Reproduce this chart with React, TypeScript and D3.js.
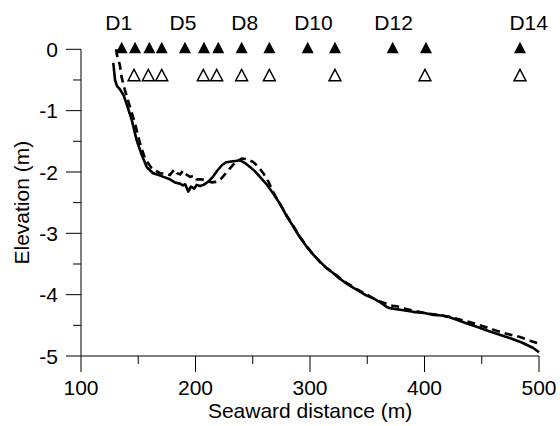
import React from "react";
import * as d3 from "d3";

const solidX = [128.2,129.7,131.5,133.5,137,140,144.3,148.6,153,157.4,163,168,172,177.7,182,186.5,189,191,193.7,196,199,201,204,207,211,215.5,219,223,227,231,235,239,243,247.6,252,256.3,262,267.9,273.8,279.6,285.4,291,297.1,303,308.7,314,320.4,326,332.1,338,343.7,349,355.3,361,367,370,380,390,400,408,415,422,430,437,445,454,465,475,485,495,500];
const solidY = [-0.22,-0.5,-0.6,-0.64,-0.74,-0.9,-1.15,-1.48,-1.72,-1.92,-2.02,-2.05,-2.08,-2.12,-2.17,-2.19,-2.22,-2.2,-2.32,-2.24,-2.27,-2.21,-2.23,-2.21,-2.16,-2.07,-1.98,-1.89,-1.84,-1.83,-1.82,-1.81,-1.85,-1.92,-1.99,-2.08,-2.2,-2.35,-2.52,-2.72,-2.89,-3.06,-3.22,-3.35,-3.46,-3.56,-3.65,-3.74,-3.82,-3.89,-3.95,-4.01,-4.06,-4.12,-4.2,-4.22,-4.25,-4.28,-4.3,-4.33,-4.34,-4.37,-4.42,-4.47,-4.52,-4.58,-4.65,-4.71,-4.78,-4.87,-4.94];

const dashX = [130.6,131.5,134,135.4,138.3,142.8,147.2,151.5,155.9,161.7,169,174,177.7,180,182.1,184,186.5,189,191,195.2,199,201,205,210,214,218.5,222.9,227,230.1,235,240.3,245,250.5,255,259.2,264,267.9,273.8,279.6,285.4,291,297.1,303,308.7,314,320.4,326,332.1,338,343.7,349,355.3,361,367,372,376,385,393,400,408,415,422,430,440,448.5,460,470,483.4,492,500];
const dashY = [0,-0.1,-0.26,-0.45,-0.66,-0.94,-1.21,-1.53,-1.78,-1.94,-2.02,-2.03,-2.05,-1.99,-1.96,-2.02,-2.04,-1.98,-2.03,-2.08,-2.06,-2.12,-2.12,-2.14,-2.17,-2.16,-2.1,-2.01,-1.94,-1.84,-1.78,-1.79,-1.84,-1.92,-2.02,-2.17,-2.33,-2.52,-2.71,-2.88,-3.05,-3.21,-3.35,-3.47,-3.56,-3.64,-3.73,-3.81,-3.88,-3.94,-3.99,-4.06,-4.11,-4.15,-4.18,-4.19,-4.24,-4.27,-4.3,-4.32,-4.34,-4.36,-4.4,-4.45,-4.5,-4.57,-4.63,-4.69,-4.75,-4.8];

const filledX = [135.5,147.2,159.7,170.5,190.8,207.4,219.9,240.3,264.5,298,321.8,372.2,401.3,483.4];
const filledLevel = 0.03;
const openX = [146.3,158.8,170.5,206.8,218.5,240.3,264.5,321.8,400.4,483.4];
const openLevel = -0.42;
const labelNames = ["D1","D5","D8","D10","D12","D14"];
const labelX = [133,189,243,303,373,491];
const labelLevel = 0.31;

const xMajor = [100,200,300,400,500];
const xMinor = [150,250,350,450];
const yMajor = [0,-1,-2,-3,-4,-5];
const yMinor = [-0.5,-1.5,-2.5,-3.5,-4.5];

const W = 560, H = 426;
const FONT = "'Liberation Sans', Arial, sans-serif";
const FS = 21;

export default function App() {
  const x = d3.scaleLinear().domain([100, 500]).range([81, 539]);
  const y = d3.scaleLinear().domain([-5, 0]).range([356, 49.3]);
  const line = d3.line<[number, number]>().x(d => x(d[0])).y(d => y(d[1])).curve(d3.curveLinear);
  const solid = solidX.map((v, i) => [v, solidY[i]] as [number, number]);
  const dashed = dashX.map((v, i) => [v, dashY[i]] as [number, number]);
  const tw = 12, th = 11.5;
  const tri = `M0,${-th / 2}L${tw / 2},${th / 2}L${-tw / 2},${th / 2}Z`;
  const x0 = x(100), y0 = y(-5);
  return (
    <svg width={W} height={H} style={{ position: "absolute", left: 0, top: 0, background: "#fff" }} fontFamily={FONT}>
      <line x1={x0} x2={x0} y1={y(0)} y2={y0} stroke="#000" strokeWidth={1} />
      <line x1={x0} x2={x(500)} y1={y0} y2={y0} stroke="#000" strokeWidth={1} />
      {yMajor.map(v => (
        <g key={"ym" + v}>
          <line x1={x0 - 15} x2={x0} y1={y(v)} y2={y(v)} stroke="#000" strokeWidth={1} />
          <text x={x0 - 23} y={y(v)} dy="0.36em" textAnchor="end" fontSize={FS}>{v}</text>
        </g>
      ))}
      {yMinor.map(v => (
        <line key={"yn" + v} x1={x0 - 8} x2={x0} y1={y(v)} y2={y(v)} stroke="#000" strokeWidth={1} />
      ))}
      {xMajor.map(v => (
        <g key={"xm" + v}>
          <line x1={x(v)} x2={x(v)} y1={y0} y2={y0 + 16} stroke="#000" strokeWidth={1} />
          <text x={x(v)} y={y0 + 39} textAnchor="middle" fontSize={FS}>{v}</text>
        </g>
      ))}
      {xMinor.map(v => (
        <line key={"xn" + v} x1={x(v)} x2={x(v)} y1={y0} y2={y0 + 8} stroke="#000" strokeWidth={1} />
      ))}
      <text x={(x0 + x(500)) / 2} y={418} textAnchor="middle" fontSize={FS}>Seaward distance (m)</text>
      <text transform={`translate(21,${(y(0) + y0) / 2}) rotate(-90)`} textAnchor="middle" dy="0.36em" fontSize={FS}>Elevation (m)</text>

      <path d={line(solid) || ""} fill="none" stroke="#000" strokeWidth={2.6} strokeLinejoin="round" />
      <path d={line(dashed) || ""} fill="none" stroke="#000" strokeWidth={2.6} strokeDasharray="8,5" />

      {filledX.map((v, i) => (
        <path key={"f" + i} d={tri} transform={`translate(${x(v)},${y(filledLevel)})`} fill="#000" />
      ))}
      {openX.map((v, i) => (
        <path key={"o" + i} d={tri} transform={`translate(${x(v)},${y(openLevel)})`} fill="#fff" stroke="#000" strokeWidth={1.4} />
      ))}
      {labelNames.map((n, i) => (
        <text key={n} x={x(labelX[i])} y={y(labelLevel)} textAnchor="middle" fontSize={FS}>{n}</text>
      ))}
    </svg>
  );
}
